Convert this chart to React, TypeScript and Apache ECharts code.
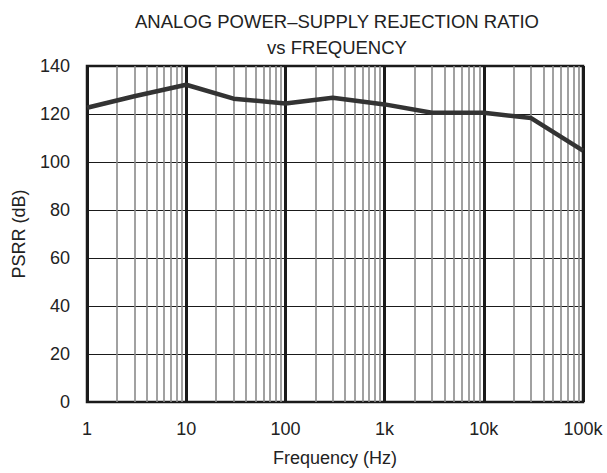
import React, { useEffect, useRef } from "react";
import * as echarts from "echarts";

const freqs = [1, 3, 10, 30, 100, 300, 1000, 3000, 10000, 30000, 100000];
const psrr = [122.6, 127.4, 132.2, 126.4, 124.4, 126.8, 124, 120.5, 120.5, 118.3, 104.7];
const minorFreqs = [
  2, 3, 4, 5, 6, 7, 8, 9,
  20, 30, 40, 50, 60, 70, 80, 90,
  200, 300, 400, 500, 600, 700, 800, 900,
  2000, 3000, 4000, 5000, 6000, 7000, 8000, 9000,
  20000, 30000, 40000, 50000, 60000, 70000, 80000, 90000,
];
const xTickLabels: Record<number, string> = { 1: "1", 10: "10", 100: "100", 1000: "1k", 10000: "10k", 100000: "100k" };
const titleLines = ["ANALOG POWER\u2013SUPPLY REJECTION RATIO", "vs FREQUENCY"];

export default function App() {
  const ref = useRef<HTMLDivElement>(null);
  useEffect(() => {
    if (!ref.current) return;
    const chart = echarts.init(ref.current, undefined, { renderer: "svg" });
    const font = "'Liberation Sans', Arial, sans-serif";
    chart.setOption({
      animation: false,
      backgroundColor: "#fff",
      textStyle: { fontFamily: font, color: "#222" },
      title: {
        text: titleLines.join("\n"),
        left: 337,
        textAlign: "center",
        top: 8,
        padding: 0,
        textStyle: { fontFamily: font, fontSize: 18.5, fontWeight: "normal", color: "#222", lineHeight: 26 },
      },
      grid: {
        left: 87,
        right: 24,
        top: 66,
        bottom: 71,
        show: true,
        borderColor: "#1a1a1a",
        borderWidth: 2.5,
        backgroundColor: "transparent",
      },
      xAxis: {
        type: "log",
        logBase: 10,
        min: 1,
        max: 100000,
        name: "Frequency (Hz)",
        nameLocation: "middle",
        nameGap: 47,
        nameTextStyle: { fontFamily: font, fontSize: 18, color: "#222" },
        axisLine: { show: false },
        axisTick: { show: false },
        axisLabel: {
          fontFamily: font,
          fontSize: 18,
          color: "#222",
          margin: 18,
          formatter: (v: number) => xTickLabels[Math.round(v)] ?? "",
        },
        splitLine: { show: true, lineStyle: { color: "#1a1a1a", width: 3 } },
      },
      yAxis: {
        type: "value",
        min: 0,
        max: 140,
        interval: 20,
        name: "PSRR (dB)",
        nameLocation: "middle",
        nameGap: 59,
        nameTextStyle: { fontFamily: font, fontSize: 18, color: "#222" },
        axisLine: { show: false },
        axisTick: { show: false },
        axisLabel: { fontFamily: font, fontSize: 18, color: "#222", margin: 17 },
        splitLine: { show: true, lineStyle: { color: "#1a1a1a", width: 1 } },
      },
      series: [
        {
          type: "line",
          data: [],
          z: 1,
          silent: true,
          markLine: {
            silent: true,
            symbol: "none",
            label: { show: false },
            lineStyle: { color: "#8a8a8a", width: 1.6, type: "solid" },
            data: minorFreqs.map((f) => ({ xAxis: f })),
          },
        },
        {
          type: "line",
          z: 5,
          data: freqs.map((f, i) => [f, psrr[i]]),
          showSymbol: false,
          symbol: "none",
          lineStyle: { color: "#333", width: 4.5 },
        },
      ],
    });
    return () => chart.dispose();
  }, []);
  return <div ref={ref} style={{ position: "absolute", left: 0, top: 0, width: 607, height: 473 }} />;
}
